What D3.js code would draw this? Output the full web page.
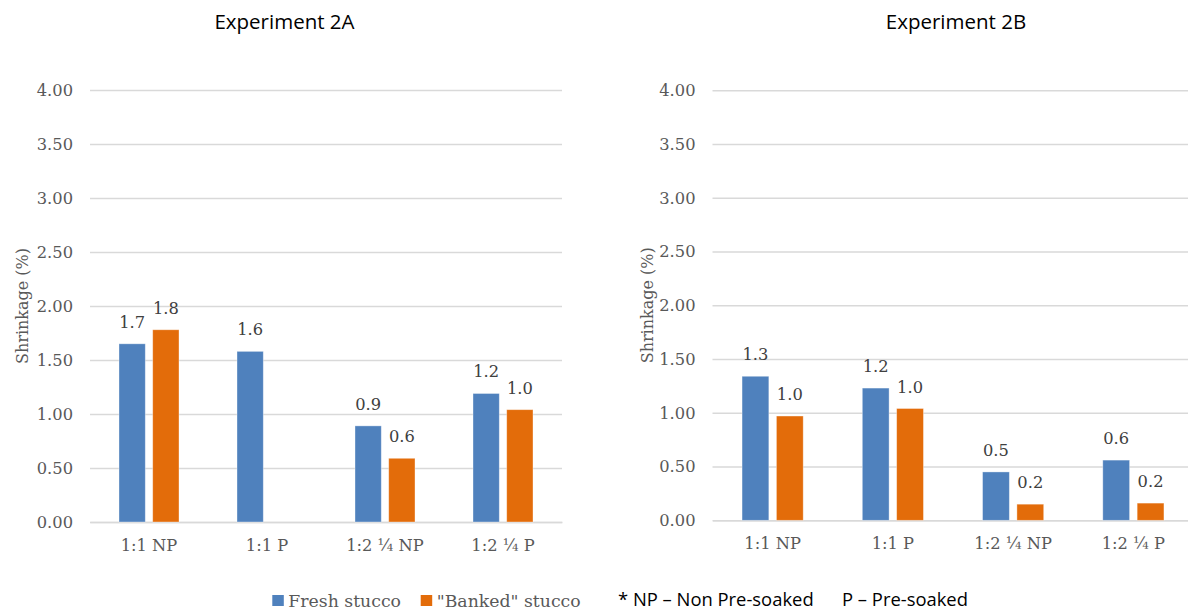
<!DOCTYPE html>
<html>
<head>
<meta charset="utf-8">
<script src="https://cdn.jsdelivr.net/npm/d3@7"></script>
<style>
  html, body { margin: 0; padding: 0; background: #fff; }
  svg { display: block; }
  .serif { font-family: "DejaVu Serif", "Liberation Serif", serif; }
  .sans { font-family: "Open Sans", "Noto Sans", "Liberation Sans", sans-serif; }
</style>
</head>
<body>
<svg id="chart" width="1188" height="612"></svg>
<script>
// Shrinkage (%) per mix, fresh vs. "banked" stucco
const categories = ["1:1 NP", "1:1 P", "1:2 \u00BC NP", "1:2 \u00BC P"];
const seriesNames = ["Fresh stucco", "\"Banked\" stucco"];
const seriesColors = ["#4F81BD", "#E36C0A"];

const exp2aFresh  = [1.65, 1.58, 0.89, 1.19];
const exp2aBanked = [1.78, null, 0.59, 1.04];
const exp2bFresh  = [1.34, 1.23, 0.45, 0.56];
const exp2bBanked = [0.97, 1.04, 0.15, 0.16];

const yTicks = [0, 0.5, 1, 1.5, 2, 2.5, 3, 3.5, 4];
const yTitle = "Shrinkage (%)";
const footnoteA = "* NP \u2013 Non Pre-soaked";
const footnoteB = "P \u2013 Pre-soaked";

const svg = d3.select("#chart");
const fmtTick = d3.format(".2f");
// round half up to one decimal for the value labels
const fmtLabel = v => (Math.round(v * 10 + 1e-9) / 10).toFixed(1);

const serifSize = "16.3px";

const panels = [
  { title: "Experiment 2A", fresh: exp2aFresh, banked: exp2aBanked,
    x0: 90, x1: 562, yTop: 90, yBottom: 522, titleX: 284.5, yTitleX: 28 },
  { title: "Experiment 2B", fresh: exp2bFresh, banked: exp2bBanked,
    x0: 712.5, x1: 1193.5, yTop: 90.3, yBottom: 520.3, titleX: 956, yTitleX: 653 }
];

panels.forEach(p => {
  const g = svg.append("g");

  const x = d3.scaleBand().domain(categories).range([p.x0, p.x1]);
  const xs = d3.scaleBand().domain(seriesNames).range([0, x.bandwidth()])
    .paddingInner(0.22).paddingOuter(0.86);
  const y = d3.scaleLinear().domain([0, 4]).range([p.yBottom, p.yTop]);

  // gridlines + tick labels
  const yAxis = g.append("g")
    .attr("transform", `translate(${p.x0},0)`)
    .call(d3.axisLeft(y).tickValues(yTicks).tickFormat(fmtTick)
      .tickSize(-(p.x1 - p.x0)).tickPadding(17));
  yAxis.select(".domain").remove();
  yAxis.selectAll("line").attr("stroke", "#D9D9D9").attr("stroke-width", 1.4);
  yAxis.selectAll("text").attr("class", "serif").attr("fill", "#595959")
    .style("font-size", serifSize);

  // category labels
  const xAxis = g.append("g")
    .attr("transform", `translate(0,${p.yBottom})`)
    .call(d3.axisBottom(x).tickSize(0).tickPadding(17));
  xAxis.select(".domain").attr("stroke", "#D9D9D9").attr("stroke-width", 1.6);
  xAxis.selectAll("text").attr("class", "serif").attr("fill", "#595959")
    .style("font-size", serifSize);

  const rows = [];
  categories.forEach((c, i) => {
    rows.push({ cat: c, s: seriesNames[0], v: p.fresh[i], color: seriesColors[0] });
    rows.push({ cat: c, s: seriesNames[1], v: p.banked[i], color: seriesColors[1] });
  });
  const present = rows.filter(d => d.v != null);

  g.selectAll("rect.bar").data(present).join("rect")
    .attr("class", "bar")
    .attr("x", d => x(d.cat) + xs(d.s))
    .attr("width", xs.bandwidth())
    .attr("y", d => y(d.v))
    .attr("height", d => y(0) - y(d.v))
    .attr("fill", d => d.color)
    .attr("stroke", "rgba(255,255,255,0.45)")
    .attr("stroke-width", 0.8);

  g.selectAll("text.val").data(present).join("text")
    .attr("class", "val serif")
    .attr("x", d => x(d.cat) + xs(d.s) + xs.bandwidth() / 2)
    .attr("y", d => y(d.v) - 16)
    .attr("text-anchor", "middle")
    .attr("fill", "#404040")
    .style("font-size", serifSize)
    .text(d => fmtLabel(d.v));

  // panel title
  g.append("text").attr("class", "sans")
    .attr("x", p.titleX).attr("y", 28.5)
    .attr("text-anchor", "middle").attr("fill", "#000")
    .style("font-size", "20.5px")
    .text(p.title);

  // y-axis title
  g.append("text").attr("class", "serif")
    .attr("transform", `translate(${p.yTitleX},${(p.yTop + p.yBottom) / 2}) rotate(-90)`)
    .attr("text-anchor", "middle").attr("fill", "#595959")
    .style("font-size", "16px")
    .text(yTitle);
});

// legend
const legend = svg.append("g");
const legendItems = [
  { name: seriesNames[0], color: seriesColors[0], x: 272.3 },
  { name: seriesNames[1], color: seriesColors[1], x: 420.7 }
];
legendItems.forEach(it => {
  legend.append("rect").attr("x", it.x).attr("y", 595).attr("width", 11.5).attr("height", 11)
    .attr("fill", it.color);
  legend.append("text").attr("class", "serif")
    .attr("x", it.x + 16).attr("y", 607)
    .attr("fill", "#595959").style("font-size", "17.3px")
    .text(it.name);
});

// footnote
svg.append("text").attr("class", "sans").attr("x", 618).attr("y", 606)
  .attr("fill", "#000").style("font-size", "18.4px").text(footnoteA);
svg.append("text").attr("class", "sans").attr("x", 842).attr("y", 606)
  .attr("fill", "#000").style("font-size", "18.4px").text(footnoteB);
</script>
</body>
</html>
